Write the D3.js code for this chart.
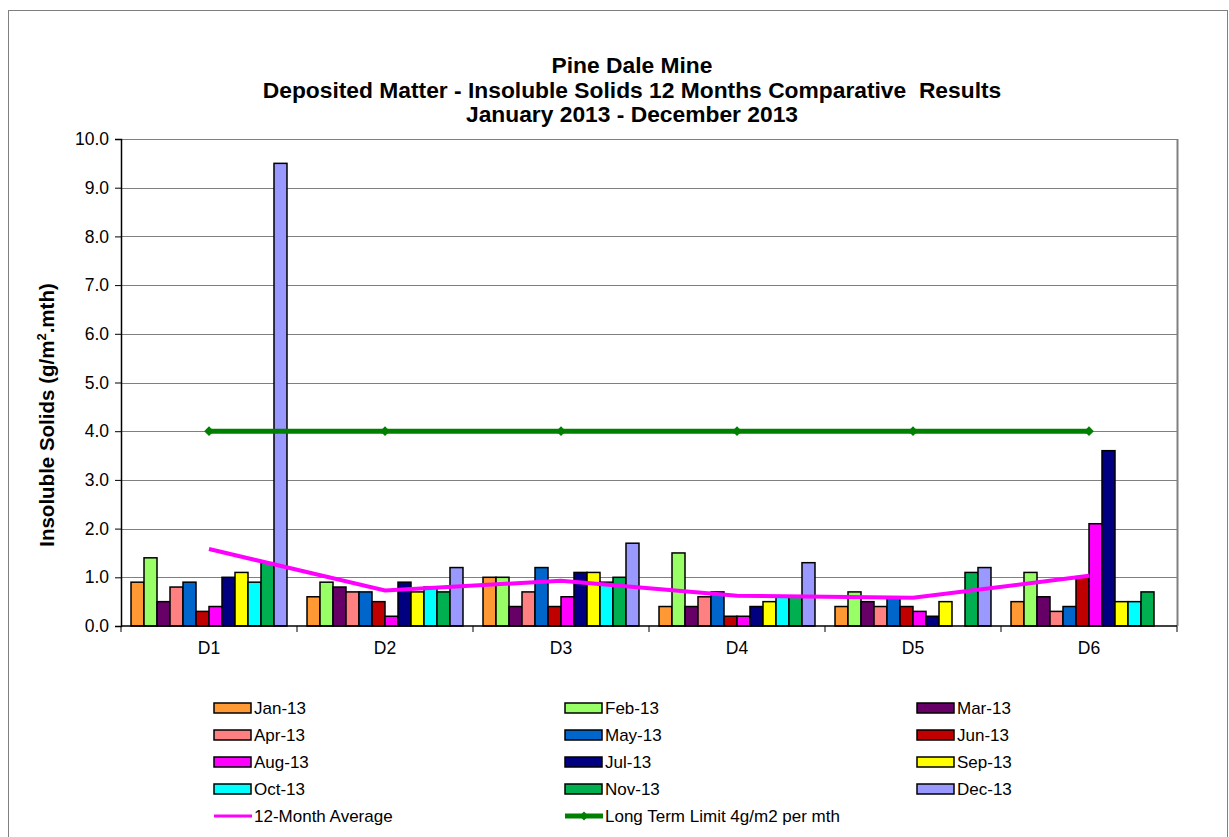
<!DOCTYPE html>
<html lang="en">
<head>
<meta charset="utf-8">
<style>
  body { margin: 0; background: white; }
  svg { font-family: Arial, 'Liberation Sans', sans-serif; }
  .grid line { stroke: #808080; stroke-width: 1; }
  .axis path, .axis line { stroke: black; }
  .axis text { font-size: 17.5px; fill: black; }
  .legend text { font-size: 17px; fill: black; }
  .title { font-size: 22.8px; font-weight: bold; }
</style>
</head>
<body>
<svg width="1229" height="837"></svg>
<script src="https://d3js.org/d3.v7.min.js"></script>
<script>
  // data
  const sites = ["D1", "D2", "D3", "D4", "D5", "D6"];
  const months = ["Jan-13", "Feb-13", "Mar-13", "Apr-13", "May-13", "Jun-13",
                  "Aug-13", "Jul-13", "Sep-13", "Oct-13", "Nov-13", "Dec-13"];
  const jan = [0.9, 0.6, 1.0, 0.4, 0.4, 0.5];
  const feb = [1.4, 0.9, 1.0, 1.5, 0.7, 1.1];
  const mar = [0.5, 0.8, 0.4, 0.4, 0.5, 0.6];
  const apr = [0.8, 0.7, 0.7, 0.6, 0.4, 0.3];
  const may = [0.9, 0.7, 1.2, 0.7, 0.6, 0.4];
  const jun = [0.3, 0.5, 0.4, 0.2, 0.4, 1.0];
  const aug = [0.4, 0.2, 0.6, 0.2, 0.3, 2.1];
  const jul = [1.0, 0.9, 1.1, 0.4, 0.2, 3.6];
  const sep = [1.1, 0.7, 1.1, 0.5, 0.5, 0.5];
  const oct = [0.9, 0.8, 0.9, 0.6, null, 0.5];
  const nov = [1.3, 0.7, 1.0, 0.6, 1.1, 0.7];
  const dec = [9.5, 1.2, 1.7, 1.3, 1.2, null];
  const average = [1.58, 0.73, 0.93, 0.62, 0.58, 1.03];
  const limit = [4.0, 4.0, 4.0, 4.0, 4.0, 4.0];
  const yTicks = [0, 1, 2, 3, 4, 5, 6, 7, 8, 9, 10];

  const series = [jan, feb, mar, apr, may, jun, aug, jul, sep, oct, nov, dec];
  const colors = ["#FF9933", "#99FF66", "#660066", "#FF8080", "#0066CC", "#C00000",
                  "#FF00FF", "#000080", "#FFFF00", "#00FFFF", "#00B050", "#9999FF"];

  const svg = d3.select("svg");
  const margin = { top: 139, left: 121, right: 52, bottom: 211 };
  const width = 1229, height = 837;

  // outer chart border
  svg.append("rect")
    .attr("x", 8.5).attr("y", 10.5)
    .attr("width", 1219).attr("height", 840)
    .attr("fill", "none").attr("stroke", "#808080");

  const x0 = d3.scaleBand().domain(sites)
    .range([margin.left, width - margin.right]);
  const x1 = d3.scaleBand().domain(months)
    .range([0, x0.bandwidth()]).paddingOuter(0.77);
  const y = d3.scaleLinear().domain([0, 10])
    .range([height - margin.bottom, margin.top]);

  // gridlines
  svg.append("g").attr("class", "grid")
    .selectAll("line").data(yTicks.slice(1))
    .join("line")
    .attr("x1", margin.left).attr("x2", width - margin.right)
    .attr("y1", d => Math.round(y(d)) + 0.5).attr("y2", d => Math.round(y(d)) + 0.5);

  // plot area right border
  svg.append("line")
    .attr("x1", width - margin.right + 0.5).attr("x2", width - margin.right + 0.5)
    .attr("y1", y(10)).attr("y2", y(0))
    .attr("stroke", "#808080").attr("stroke-width", 2);

  // bars
  const groups = svg.append("g").selectAll("g")
    .data(series).join("g")
    .attr("fill", (d, i) => colors[i]);
  groups.selectAll("rect")
    .data((d, i) => d.map((v, j) => ({ v: v, site: sites[j], month: months[i] }))
      .filter(e => e.v != null))
    .join("rect")
    .attr("x", d => x0(d.site) + x1(d.month))
    .attr("width", x1.bandwidth())
    .attr("y", d => y(d.v))
    .attr("height", d => y(0) - y(d.v))
    .attr("stroke", "black").attr("stroke-width", 1.5);

  // axes
  const yAxis = d3.axisLeft(y).tickValues(yTicks).tickFormat(d3.format(".1f"))
    .tickSize(6).tickPadding(6);
  svg.append("g").attr("class", "axis")
    .attr("transform", "translate(" + margin.left + ",0)")
    .call(yAxis)
    .call(g => g.select(".domain").attr("stroke-width", 1.5));

  const xAxis = svg.append("g").attr("class", "axis")
    .attr("transform", "translate(0," + y(0) + ")");
  xAxis.append("line")
    .attr("x1", margin.left).attr("x2", width - margin.right)
    .attr("stroke", "black").attr("stroke-width", 1.5);
  xAxis.selectAll(".tk")
    .data(sites.map(s => x0(s)).concat([width - margin.right]))
    .join("line").attr("class", "tk")
    .attr("x1", d => d).attr("x2", d => d)
    .attr("y1", 0).attr("y2", 6).attr("stroke", "black");
  xAxis.selectAll("text")
    .data(sites).join("text")
    .attr("x", d => x0(d) + x0.bandwidth() / 2)
    .attr("y", 28)
    .attr("text-anchor", "middle")
    .text(d => d);

  // lines
  const cx = d => x0(d) + x0.bandwidth() / 2;
  const line = d3.line().x((d, i) => cx(sites[i])).y(d => y(d));

  svg.append("path")
    .datum(limit)
    .attr("d", line)
    .attr("fill", "none").attr("stroke", "#008000").attr("stroke-width", 5);
  svg.append("g").selectAll("path")
    .data(limit).join("path")
    .attr("d", d3.symbol(d3.symbolDiamond2, 60))
    .attr("transform", (d, i) => "translate(" + cx(sites[i]) + "," + y(d) + ")")
    .attr("fill", "#008000");

  svg.append("path")
    .datum(average)
    .attr("d", line)
    .attr("fill", "none").attr("stroke", "#FF00FF").attr("stroke-width", 4);

  // titles
  const titles = ["Pine Dale Mine",
    "Deposited Matter - Insoluble Solids 12 Months Comparative  Results",
    "January 2013 - December 2013"];
  svg.append("g").selectAll("text")
    .data(titles).join("text")
    .attr("class", "title")
    .attr("x", 632).attr("y", (d, i) => 73 + i * 24.5)
    .attr("text-anchor", "middle")
    .style("white-space", "pre")
    .text(d => d);

  const yl = svg.append("text")
    .attr("class", "title")
    .style("font-size", "20.5px")
    .attr("text-anchor", "middle")
    .attr("transform", "translate(54,415) rotate(-90)");
  yl.append("tspan").text("Insoluble Solids (g/m");
  yl.append("tspan").style("font-size", "13px").attr("dy", -8).text("2");
  yl.append("tspan").attr("dy", 8).text(".mth)");

  // legend
  const legendItems = months.map((m, i) => ({ name: m, type: "bar", color: colors[i] }))
    .concat([{ name: "12-Month Average", type: "line", color: "#FF00FF" },
             { name: "Long Term Limit 4g/m2 per mth", type: "limit", color: "#008000" }]);
  const colX = [214, 565, 917];
  const rowY = [708, 735, 762, 789, 816];
  const legend = svg.append("g").attr("class", "legend")
    .selectAll("g").data(legendItems).join("g")
    .attr("transform", (d, i) => "translate(" + colX[i % 3] + "," + rowY[Math.floor(i / 3)] + ")");
  legend.filter(d => d.type === "bar").append("rect")
    .attr("x", 0).attr("y", -5).attr("width", 37).attr("height", 10)
    .attr("fill", d => d.color).attr("stroke", "black").attr("stroke-width", 1.5);
  legend.filter(d => d.type !== "bar").append("line")
    .attr("x1", 0).attr("x2", 38)
    .attr("stroke", d => d.color)
    .attr("stroke-width", d => d.type === "limit" ? 5 : 3);
  legend.filter(d => d.type === "limit").append("path")
    .attr("d", d3.symbol(d3.symbolDiamond2, 50))
    .attr("transform", "translate(19,0)")
    .attr("fill", "#008000");
  legend.append("text")
    .attr("x", 40).attr("y", 6)
    .text(d => d.name);
</script>
</body>
</html>
